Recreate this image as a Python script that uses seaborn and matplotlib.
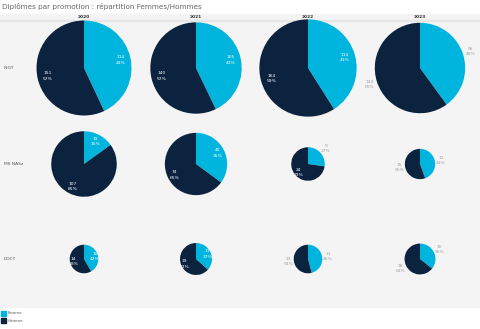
import numpy as np
import matplotlib
matplotlib.use("Agg")
import matplotlib.pyplot as plt
import seaborn as sns

# ---- data ----
years = ["2020", "2021", "2022", "2023"]
programs = ["INGT", "MS NASz", "DOCT"]
femmes = [[114, 105, 114, 96],
          [19, 40, 9, 12],
          [10, 11, 11, 10]]
hommes = [[151, 140, 164, 144],
          [107, 74, 24, 15],
          [14, 19, 13, 18]]
legend_labels = ["Femme", "Homme"]
title = "Diplômes par promotion : répartition Femmes/Hommes"

# label placement (style): True = inside (white), False = outside (grey)
inside = [[(True, True), (True, True), (True, True), (False, False)],
          [(True, True), (True, True), (False, True), (False, False)],
          [(True, True), (True, True), (False, False), (False, False)]]

sns.set_theme(style="white")
colors = sns.color_palette(["#00b5dd", "#0c2340"])

W, H = 480, 329
fig = plt.figure(figsize=(W / 100, H / 100), dpi=100)
fig.patch.set_facecolor("white")
ax = fig.add_axes([0, 0, 1, 1])

def py(y):
    return H - y

# panel background
ax.add_patch(plt.Rectangle((0, py(307)), W, 307 - 14, color="#f4f4f4", zorder=0))
ax.add_patch(plt.Rectangle((0, py(20.5)), W, 1.0, color="#e6e6e6", zorder=0.5))

col_x = [84 + 112 * j for j in range(len(years))]
row_y = [68, 164, 259]
max_total = femmes[0][0] + hommes[0][0]
rmax = 47.5

for j, yr in enumerate(years):
    ax.text(col_x[j], py(17), yr, ha="center", va="center", fontsize=3.2,
            fontweight="bold", color="#333333")
for i, p in enumerate(programs):
    ax.text(4, py(row_y[i]), p, ha="left", va="center", fontsize=3.2, color="#555555")
    for j in range(len(years)):
        f, h = femmes[i][j], hommes[i][j]
        tot = f + h
        r = rmax * np.sqrt(tot / max_total)
        cx, cy = col_x[j], py(row_y[i])
        ax.pie([f, h], colors=colors, startangle=90, counterclock=False,
               center=(cx, cy), radius=r, frame=True,
               wedgeprops=dict(linewidth=0))
        vals = [f, h]
        start = 0.0
        for k, v in enumerate(vals):
            frac = v / tot
            mid = (start + frac / 2) * 2 * np.pi
            start += frac
            ins = inside[i][j][k]
            d = 0.78 * r if ins else (1.17 * r if r > 30 else 1.4 * r)
            tx = cx + d * np.sin(mid)
            ty = cy + d * np.cos(mid)
            col = "white" if ins else "#a0a0a0"
            ax.text(tx, ty, f"{v}\n{round(frac * 100)}%", ha="center", va="center",
                    fontsize=3.2, color=col, linespacing=1.4, zorder=5)

# title
ax.text(2, py(6), title, ha="left", va="center", fontsize=5.2, color="#666666")

# legend
for k, lab in enumerate(legend_labels):
    yy = 313.5 + 7 * k
    ax.add_patch(plt.Rectangle((1, py(yy + 2.5)), 5, 5, color=colors[k], zorder=3))
    ax.text(8, py(yy), lab, ha="left", va="center", fontsize=2.8, color="#555555")

ax.set_xlim(0, W)
ax.set_ylim(0, H)
ax.set_aspect("equal")
ax.axis("off")
fig.savefig("out.png", dpi=100, facecolor="white")
